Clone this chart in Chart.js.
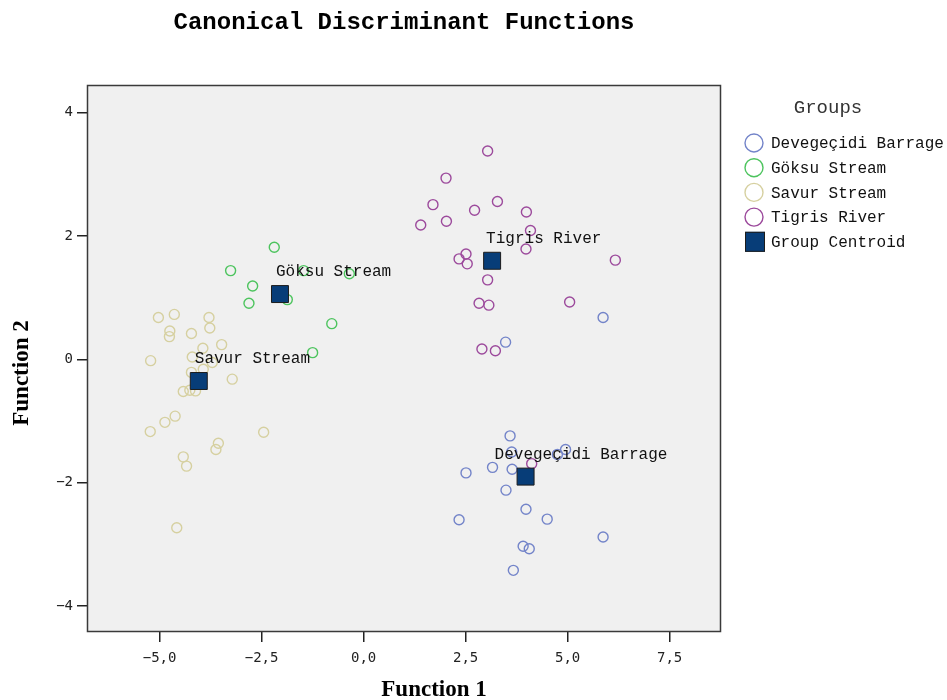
<!DOCTYPE html>
<html>
<head>
<meta charset="utf-8">
<script src="https://cdn.jsdelivr.net/npm/chart.js@4/dist/chart.umd.min.js"></script>
<style>
html,body{margin:0;padding:0;background:#fff;}
#wrap{width:947px;height:700px;position:relative;}
</style>
</head>
<body>
<div id="wrap"><canvas id="c" width="947" height="700"></canvas></div>
<script>
// ---- data ----
const categories = ['Devegeçidi Barrage', 'Göksu Stream', 'Savur Stream', 'Tigris River'];
const centroidLabel = 'Group Centroid';

const devegecidiX = [5.87, 3.48, 3.59, 3.63, 4.95, 4.75, 2.51, 3.16, 3.64, 3.49, 3.98, 2.34, 4.50, 5.87, 3.91, 4.06, 3.67];
const devegecidiY = [0.68, 0.28, -1.24, -1.50, -1.46, -1.54, -1.84, -1.75, -1.78, -2.12, -2.43, -2.60, -2.59, -2.88, -3.03, -3.07, -3.42];

const goksuX = [-2.19, -3.26, -1.47, -0.35, -2.72, -2.81, -1.87, -0.78, -1.25];
const goksuY = [1.82, 1.44, 1.44, 1.39, 1.19, 0.91, 0.97, 0.58, 0.11];

const savurX = [-5.03, -4.64, -3.79, -4.75, -4.76, -4.22, -3.77, -3.48, -3.94, -5.22, -4.20, -3.71, -4.22, -3.93, -3.22, -4.42, -4.26, -4.12, -4.62, -4.87, -5.23, -2.45, -3.56, -3.62, -4.42, -4.34, -4.58];
const savurY = [0.68, 0.73, 0.68, 0.46, 0.37, 0.42, 0.51, 0.24, 0.18, -0.02, 0.04, -0.05, -0.21, -0.16, -0.32, -0.52, -0.50, -0.51, -0.92, -1.02, -1.17, -1.18, -1.36, -1.46, -1.58, -1.73, -2.73];

const tigrisX = [3.04, 2.02, 1.70, 2.72, 3.28, 3.99, 1.40, 2.03, 4.09, 3.98, 2.51, 2.34, 2.54, 6.17, 3.04, 5.05, 2.83, 3.07, 2.90, 3.23, 4.12];
const tigrisY = [3.38, 2.94, 2.51, 2.42, 2.56, 2.39, 2.18, 2.24, 2.09, 1.79, 1.71, 1.63, 1.55, 1.61, 1.29, 0.93, 0.91, 0.88, 0.17, 0.14, -1.69];

const centroidX = [3.97, -2.05, -4.04, 3.15];
const centroidY = [-1.90, 1.06, -0.35, 1.60];

const xTicks = [-5, -2.5, 0, 2.5, 5, 7.5];
const yTicks = [-4, -2, 0, 2, 4];

// ---- styles ----
const groupColors = ['#7384c9', '#4dc45e', '#d6d0a0', '#9c4a9c'];
const centroidFill = '#073d78';
const MONO = '"Liberation Mono", "Courier New", monospace';

function pts(xs, ys) { return xs.map((x, i) => ({x: x, y: ys[i]})); }
const groupX = [devegecidiX, goksuX, savurX, tigrisX];
const groupY = [devegecidiY, goksuY, savurY, tigrisY];

const datasets = [{
  label: centroidLabel,
  data: pts(centroidX, centroidY),
  pointStyle: 'rect',
  pointRadius: 12,
  pointBackgroundColor: centroidFill,
  pointBorderColor: '#1c1c1c',
  pointBorderWidth: 1
}];
categories.forEach((c, i) => {
  datasets.push({
    label: c,
    data: pts(groupX[i], groupY[i]),
    pointStyle: 'circle',
    pointRadius: 5,
    pointBackgroundColor: 'rgba(0,0,0,0)',
    pointBorderColor: groupColors[i],
    pointBorderWidth: 1.4
  });
});

const fmt = v => {
  const s = (Math.abs(v) % 1 === 0 && Number.isInteger(v) && yTicks.includes(v)) ? String(Math.abs(v)) : Math.abs(v).toFixed(1).replace('.', ',');
  return (v < 0 ? '\u2212' : '') + s;
};

const decor = {
  id: 'decor',
  beforeDraw(chart) {
    const {ctx, chartArea: a} = chart;
    ctx.save();
    ctx.fillStyle = '#ffffff';
    ctx.fillRect(0, 0, chart.width, chart.height);
    ctx.fillStyle = '#f0f0f0';
    ctx.fillRect(a.left, a.top, a.right - a.left, a.bottom - a.top);
    ctx.restore();
  },
  afterDatasetsDraw(chart) {
    const {ctx, chartArea: a} = chart;
    const xs = chart.scales.x, ys = chart.scales.y;
    ctx.save();
    // border
    ctx.strokeStyle = '#3a3a3a';
    ctx.lineWidth = 1.5;
    ctx.strokeRect(a.left + 0.5, a.top + 0.5, a.right - a.left - 1, a.bottom - a.top - 1);
    // centroid labels
    const dx = [-31, -4, -4, -6];
    ctx.font = '16px ' + MONO;
    ctx.fillStyle = '#111';
    ctx.textAlign = 'left';
    ctx.textBaseline = 'middle';
    categories.forEach((c, i) => {
      const px = xs.getPixelForValue(centroidX[i]);
      const py = ys.getPixelForValue(centroidY[i]);
      ctx.fillText(c, px + dx[i], py - 22);
    });
    ctx.restore();
  },
  afterDraw(chart) {
    const {ctx} = chart;
    ctx.save();
    // title
    ctx.fillStyle = '#000';
    ctx.font = 'bold 24px ' + MONO;
    ctx.textAlign = 'center';
    ctx.textBaseline = 'middle';
    ctx.fillText('Canonical Discriminant Functions', 404, 23);
    // axis titles
    ctx.font = 'bold 23px "Liberation Serif", "Times New Roman", serif';
    ctx.fillText('Function 1', 434, 690);
    ctx.save();
    ctx.translate(22, 373);
    ctx.rotate(-Math.PI / 2);
    ctx.fillText('Function 2', 0, 0);
    ctx.restore();
    // legend
    ctx.fillStyle = '#333';
    ctx.font = '19px ' + MONO;
    ctx.fillText('Groups', 828, 108);
    ctx.textAlign = 'left';
    ctx.font = '16px ' + MONO;
    categories.forEach((c, i) => {
      const y = 143 + i * 24.7;
      ctx.beginPath();
      ctx.arc(754, y, 9, 0, Math.PI * 2);
      ctx.strokeStyle = groupColors[i];
      ctx.lineWidth = 1.4;
      ctx.stroke();
      ctx.fillStyle = '#111';
      ctx.fillText(c, 771, y + 1);
    });
    const yc = 143 + 4 * 24.7;
    ctx.fillStyle = centroidFill;
    ctx.fillRect(745, yc - 10, 20, 20);
    ctx.strokeStyle = '#1c1c1c';
    ctx.lineWidth = 1;
    ctx.strokeRect(745.5, yc - 9.5, 19, 19);
    ctx.fillStyle = '#111';
    ctx.fillText(centroidLabel, 771, yc + 1);
    ctx.restore();
  }
};

new Chart(document.getElementById('c'), {
  type: 'scatter',
  data: {datasets: datasets},
  plugins: [decor],
  options: {
    responsive: false,
    animation: false,
    events: [],
    layout: {padding: {left: 0, right: 226, top: 85, bottom: 0}},
    plugins: {legend: {display: false}, tooltip: {enabled: false}, title: {display: false}},
    scales: {
      x: {
        type: 'linear', min: -6.78, max: 8.76,
        afterBuildTicks: s => { s.ticks = xTicks.map(v => ({value: v})); },
        afterFit: s => { s.height = 68; },
        grid: {drawOnChartArea: false, drawTicks: true, tickLength: 10, color: '#222', lineWidth: 1.5},
        border: {display: false},
        ticks: {
          padding: 8, color: '#222',
          font: {family: '"DejaVu Sans Mono", monospace', size: 14},
          callback: v => (v < 0 ? '\u2212' : '') + Math.abs(v).toFixed(1).replace('.', ','),
          maxRotation: 0, autoSkip: false
        }
      },
      y: {
        type: 'linear', min: -4.42, max: 4.45,
        afterBuildTicks: s => { s.ticks = yTicks.map(v => ({value: v})); },
        afterFit: s => { s.width = 87; },
        grid: {drawOnChartArea: false, drawTicks: true, tickLength: 10, color: '#222', lineWidth: 1.5},
        border: {display: false},
        ticks: {
          padding: 4, color: '#222',
          font: {family: '"DejaVu Sans Mono", monospace', size: 14},
          callback: v => (v < 0 ? '\u2212' : '') + Math.abs(v),
          autoSkip: false
        }
      }
    }
  }
});
</script>
</body>
</html>
